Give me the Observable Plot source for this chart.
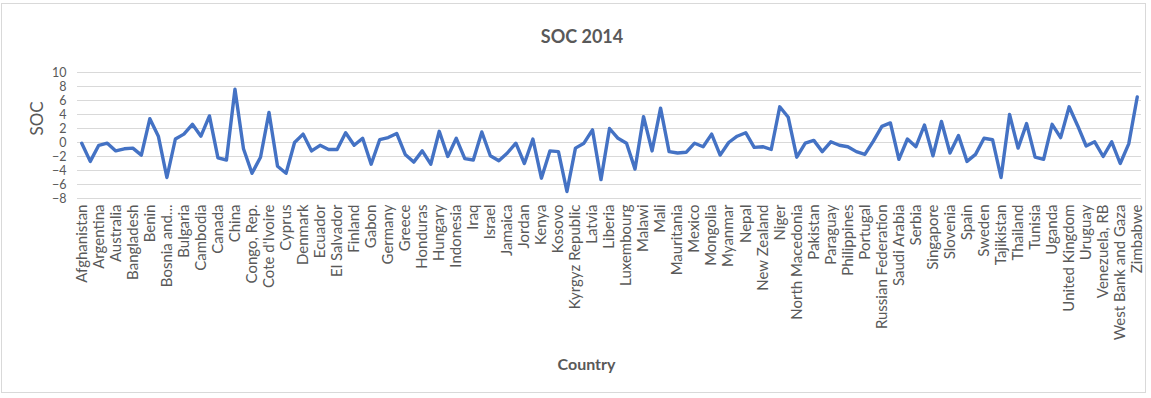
<!DOCTYPE html>
<html>
<head>
<meta charset="utf-8">
<script src="https://cdn.jsdelivr.net/npm/d3@7"></script>
<script src="https://cdn.jsdelivr.net/npm/@observablehq/plot@0.6"></script>
<style>
  html, body { margin: 0; padding: 0; background: #fff; }
  #chart { position: relative; width: 1151px; height: 398px; overflow: hidden; font-family: Lato, "Open Sans", sans-serif; }
  #frame { position: absolute; left: 1px; top: 3px; width: 1145px; height: 390px; border: 1px solid #d9d9d9; box-sizing: border-box; }
  #title { position: absolute; top: 25px; left: 582px; transform: translateX(-50%); font-size: 18px; font-weight: 700; color: #595959; white-space: nowrap; }
  #plot { position: absolute; left: 0; top: 60px; }
</style>
</head>
<body>
<div id="chart">
  <div id="frame"></div>
  <div id="title">SOC 2014</div>
  <div id="plot"></div>
</div>
<script>
// Countries in alphabetical order (every other one is labelled on the axis)
const countries = [
  "Afghanistan", "Albania", "Argentina", "Armenia", "Australia", "Austria",
  "Bangladesh", "Belgium", "Benin", "Bolivia", "Bosnia and Herzegovina", "Brazil",
  "Bulgaria", "Burkina Faso", "Cambodia", "Cameroon", "Canada", "Chile",
  "China", "Colombia", "Congo, Rep.", "Costa Rica", "Cote d'Ivoire", "Croatia",
  "Cyprus", "Czech Republic", "Denmark", "Dominican Republic", "Ecuador", "Egypt, Arab Rep.",
  "El Salvador", "Estonia", "Finland", "France", "Gabon", "Georgia",
  "Germany", "Ghana", "Greece", "Guatemala", "Honduras", "Hong Kong SAR, China",
  "Hungary", "India", "Indonesia", "Iran, Islamic Rep.", "Iraq", "Ireland",
  "Israel", "Italy", "Jamaica", "Japan", "Jordan", "Kazakhstan",
  "Kenya", "Korea, Rep.", "Kosovo", "Kuwait", "Kyrgyz Republic", "Lao PDR",
  "Latvia", "Lebanon", "Liberia", "Lithuania", "Luxembourg", "Madagascar",
  "Malawi", "Malaysia", "Mali", "Malta", "Mauritania", "Mauritius",
  "Mexico", "Moldova", "Mongolia", "Montenegro", "Myanmar", "Namibia",
  "Nepal", "Netherlands", "New Zealand", "Nicaragua", "Niger", "Nigeria",
  "North Macedonia", "Norway", "Pakistan", "Panama", "Paraguay", "Peru",
  "Philippines", "Poland", "Portugal", "Romania", "Russian Federation", "Rwanda",
  "Saudi Arabia", "Senegal", "Serbia", "Sierra Leone", "Singapore", "Slovak Republic",
  "Slovenia", "South Africa", "Spain", "Sri Lanka", "Sweden", "Switzerland",
  "Tajikistan", "Tanzania", "Thailand", "Togo", "Tunisia", "Turkey",
  "Uganda", "Ukraine", "United Kingdom", "United States", "Uruguay", "Uzbekistan",
  "Venezuela, RB", "Vietnam", "West Bank and Gaza", "Zambia", "Zimbabwe"
];

// SOC value per country, 2014
const soc = [
  -0.1, -2.7, -0.4, -0.1, -1.2, -0.9,
  -0.8, -1.8, 3.4, 0.9, -5.0, 0.5,
  1.2, 2.6, 0.9, 3.8, -2.2, -2.5,
  7.6, -0.9, -4.4, -2.1, 4.3, -3.4,
  -4.4, 0.0, 1.2, -1.2, -0.4, -1.0,
  -1.0, 1.4, -0.4, 0.6, -3.1, 0.4,
  0.7, 1.3, -1.7, -2.8, -1.2, -3.1,
  1.6, -2.0, 0.6, -2.3, -2.5, 1.5,
  -1.9, -2.6, -1.5, -0.1, -3.0, 0.5,
  -5.1, -1.2, -1.3, -7.0, -0.8, -0.1,
  1.8, -5.3, 2.0, 0.6, -0.1, -3.8,
  3.7, -1.2, 4.9, -1.3, -1.5, -1.4,
  -0.1, -0.6, 1.2, -1.8, 0.0, 0.9,
  1.4, -0.7, -0.6, -1.0, 5.1, 3.6,
  -2.1, -0.1, 0.3, -1.3, 0.1, -0.4,
  -0.6, -1.3, -1.7, 0.2, 2.3, 2.8,
  -2.4, 0.5, -0.6, 2.5, -1.9, 3.0,
  -1.5, 1.0, -2.7, -1.7, 0.6, 0.4,
  -5.0, 4.0, -0.8, 2.7, -2.1, -2.4,
  2.6, 0.7, 5.1, 2.4, -0.5, 0.1,
  -2.0, 0.1, -3.0, -0.2, 6.5
];

const yTicks = [-8, -6, -4, -2, 0, 2, 4, 6, 8, 10];
const xLabelled = countries.filter((d, i) => i % 2 === 0);

const data = countries.map((country, i) => ({country, soc: soc[i]}));

// long category names are shortened the way the axis shows them
const shorten = (name) => name.length > 20 ? name.slice(0, 10) + "..." : name;

const chart = Plot.plot({
  width: 1151,
  height: 338,
  marginTop: 12,
  marginBottom: 200,
  marginLeft: 77,
  marginRight: 10,
  style: {fontFamily: "Lato, 'Open Sans', sans-serif", fontSize: "14px", color: "#595959", background: "transparent", overflow: "visible"},
  x: {type: "point", domain: countries, padding: 0.5},
  y: {domain: [-8, 10]},
  marks: [
    Plot.ruleY(yTicks, {stroke: "#d9d9d9", strokeWidth: 1}),
    Plot.axisY({ticks: yTicks, tickSize: 0, tickPadding: 11, fontSize: 12.5, label: null}),
    Plot.axisX({ticks: xLabelled, tickSize: 0, tickRotate: -90, tickPadding: 6, fontSize: 15, tickFormat: shorten, label: null}),
    Plot.line(data, {x: "country", y: "soc", stroke: "#4472C4", strokeWidth: 3.4, strokeLinejoin: "round", strokeLinecap: "round"}),
    Plot.text(["SOC"], {frameAnchor: "left", dx: -40, rotate: -90, fontSize: 17, fill: "#595959"}),
    Plot.text(["Country"], {frameAnchor: "bottom", lineAnchor: "middle", dx: -23, dy: 166, fontSize: 16, fontWeight: "bold", fill: "#595959"})
  ]
});

document.getElementById("plot").appendChild(chart);
</script>
</body>
</html>
